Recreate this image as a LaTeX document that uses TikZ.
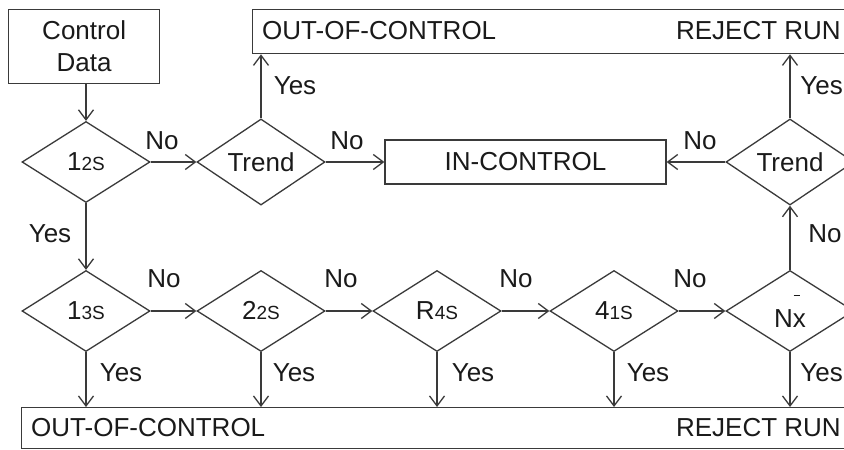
\documentclass[tikz,border=0pt]{standalone}
\usepackage{fontspec}
\setmainfont{Liberation Sans}
\usetikzlibrary{shapes.geometric,arrows.meta}
\definecolor{lc}{HTML}{3A3A3A}
\definecolor{tc}{HTML}{1A1A1A}
\newcommand\smtxt[1]{{\fontsize{19}{19}\selectfont #1}}
\begin{document}
\begin{tikzpicture}[x=1pt,y=-1pt,
  font=\fontsize{26}{32}\selectfont,
  every node/.style={text=tc},
  ln/.style={draw=lc, line width=1.3pt},
  arr/.style={ln, -{Straight Barb[length=10pt,width=15pt,line width=1.3pt]}},
  dia/.style={shape=diamond, draw=lc, line width=1.3pt, minimum width=128pt, minimum height=81pt, inner sep=0pt},
  boxn/.style={draw=lc, line width=1.3pt, rectangle, inner sep=0pt},
  lbl/.style={inner sep=0pt}]
\clip (0,0) rectangle (844,450);
\fill[white] (0,0) rectangle (844,450);
% boxes
\node[boxn, anchor=north west, minimum width=151pt, minimum height=74pt, align=center] (cd) at (8,9) {Control\\Data};
\node[boxn, anchor=north west, minimum width=640pt, minimum height=44pt] (oc1) at (252,9) {};
\node[boxn, minimum width=281pt, minimum height=44pt] (inc) at (525.5,162) {IN-CONTROL};
\node[boxn, anchor=north west, minimum width=860pt, minimum height=41pt] (oc2) at (21,407) {};
\node[lbl, anchor=west] (t1a) at (262,31) {OUT-OF-CONTROL};
\node[lbl, anchor=east] (t1b) at (841,31) {REJECT RUN};
\node[lbl, anchor=west] (t2a) at (31,428) {OUT-OF-CONTROL};
\node[lbl, anchor=east] (t2b) at (841,428) {REJECT RUN};
% diamonds
\node[dia] (d12) at (86,162) {1\smtxt{2S}};
\node[dia] (tr1) at (261,162) {Trend};
\node[dia] (tr2) at (790,162) {Trend};
\node[dia] (d13) at (86,311) {1\smtxt{3S}};
\node[dia] (d22) at (261,311) {2\smtxt{2S}};
\node[dia] (r4) at (437,311) {R\smtxt{4S}};
\node[dia] (d41) at (614,311) {4\smtxt{1S}};
\node[dia] (nx) at (790,311) {N\rlap{\hspace{0.03em}\raisebox{1.2em}{\rule{0.24em}{1.3pt}}}x};
% connectors
\draw[arr] (d12.north |- cd.south) -- (d12.north);
\draw[arr] (d12.east) -- (tr1.west);
\draw[arr] (tr1.east) -- (inc.west);
\draw[arr] (tr1.north) -- (tr1.north |- oc1.south);
\draw[arr] (tr2.west) -- (inc.east);
\draw[arr] (tr2.north) -- (tr2.north |- oc1.south);
\draw[arr] (d12.south) -- (d13.north);
\draw[arr] (d13.east) -- (d22.west);
\draw[arr] (d22.east) -- (r4.west);
\draw[arr] (r4.east) -- (d41.west);
\draw[arr] (d41.east) -- (nx.west);
\draw[arr] (nx.north) -- (tr2.south);
\draw[arr] (d13.south) -- (d13.south |- oc2.north);
\draw[arr] (d22.south) -- (d22.south |- oc2.north);
\draw[arr] (r4.south) -- (r4.south |- oc2.north);
\draw[arr] (d41.south) -- (d41.south |- oc2.north);
\draw[arr] (nx.south) -- (nx.south |- oc2.north);
% labels
\node[lbl] (l1) at (162,141) {No};
\node[lbl] (l2) at (347,141) {No};
\node[lbl] (l3) at (295,86) {Yes};
\node[lbl] (l4) at (700,141) {No};
\node[lbl, anchor=east] (l5) at (843,86) {Yes};
\node[lbl] (l6) at (50,234) {Yes};
\node[lbl] (l7) at (825,234) {No};
\node[lbl] (l8) at (164,279) {No};
\node[lbl] (l9) at (341,279) {No};
\node[lbl] (l10) at (516,279) {No};
\node[lbl] (l11) at (690,279) {No};
\node[lbl] (l12) at (121,373) {Yes};
\node[lbl] (l13) at (294,373) {Yes};
\node[lbl] (l14) at (473,373) {Yes};
\node[lbl] (l15) at (648,373) {Yes};
\node[lbl, anchor=east] (l16) at (843,373) {Yes};
\end{tikzpicture}
\end{document}
